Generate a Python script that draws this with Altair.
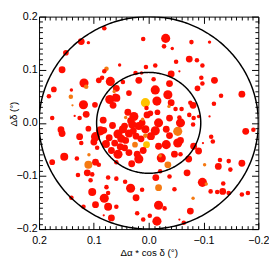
import altair as alt
import numpy as np
import pandas as pd

# source positions (deg), relative flux, colour class
dra = [0.081, 0.123, 0.110, 0.151, 0.158, 0.077, 0.081, 0.053, 0.085, 0.091, 0.070, 0.173, 0.118, 0.114,
       0.141, 0.182, 0.142, 0.139, 0.119, 0.114, 0.098, 0.135, 0.126, 0.176, 0.160, 0.110, 0.065, 0.061,
       0.063, 0.071, 0.059, 0.059, 0.047, 0.024, 0.013, 0.018, 0.006, 0.003, 0.004, 0.027, 0.042, 0.033,
       0.036, 0.082,
       -0.031, 0.010, -0.028, -0.043, -0.078, -0.111, -0.074, -0.088, -0.050, -0.098, 0.005, -0.012,
       -0.120, -0.096, -0.098, -0.089, -0.132, -0.170, -0.119, -0.111, -0.177, -0.191, -0.012, -0.038,
       -0.035, -0.041, -0.015, -0.037, -0.076, -0.081, -0.060, -0.049, -0.016, -0.038, -0.074, -0.082,
       -0.058, -0.018, -0.081, -0.053, 0.011, -0.032, -0.056, -0.041, -0.009, -0.056, -0.091,
       0.158, 0.126, 0.097, 0.100, 0.094, 0.123, 0.154, 0.176, 0.109, 0.131, 0.110, 0.097, 0.091, 0.112,
       0.103, 0.129, 0.106, 0.074, 0.059, 0.043, 0.033, 0.077, 0.103, 0.074, 0.081, 0.097, 0.074, 0.059,
       0.141, 0.119, 0.068, 0.082,
       0.088, 0.056, 0.044, 0.030, 0.018, 0.006, 0.012, 0.006, 0.004, 0.025, 0.062, 0.042, 0.044, 0.056,
       0.036, 0.021, 0.018, 0.031, 0.059, 0.066, 0.050, 0.072, 0.036, 0.023, 0.014,
       -0.012, -0.038, -0.058, -0.032, -0.053, -0.018, -0.091, -0.047, -0.058, -0.021, -0.023, -0.073,
       -0.070, -0.021,
       -0.035, -0.082, -0.099, -0.114, -0.117, -0.130, -0.146, -0.102, -0.127, -0.149, -0.170, -0.013,
       -0.038, -0.098, -0.105, -0.136, -0.113, -0.125, -0.135, -0.146, -0.170, -0.181, -0.081, 0.012,
       -0.018, -0.047, 0.023, -0.018, -0.029, -0.076, -0.056, -0.064, -0.015, -0.002, 0.021, 0.010,
       0.078, 0.047, 0.028, 0.010, -0.004, 0.052, 0.038, -0.003, 0.068, 0.083]
ddec = [0.178, 0.153, 0.151, 0.132, 0.100, 0.102, 0.097, 0.109, 0.085, 0.080, 0.078, 0.063, 0.075, 0.068,
        0.062, 0.050, 0.049, 0.033, 0.034, 0.016, 0.034, 0.013, 0.009, 0.009, -0.013, -0.011, 0.033, 0.050,
        0.059, 0.044, 0.047, 0.065, 0.077, 0.094, 0.094, 0.080, 0.038, 0.015, 0.028, 0.012, 0.010, 0.004,
        0.056, -0.014,
        0.159, 0.158, 0.144, 0.140, 0.152, 0.152, 0.120, 0.118, 0.115, 0.108, 0.105, 0.108,
        0.080, 0.085, 0.074, 0.065, 0.051, 0.054, 0.036, 0.012, -0.016, -0.013, 0.062, 0.074,
        0.053, 0.038, 0.041, 0.031, 0.038, 0.033, 0.026, 0.026, 0.020, 0.009, 0.015, 0.009,
        0.000, 0.000, -0.003, -0.016, 0.007, -0.012, 0.097, 0.092, 0.082, 0.010, 0.012,
        -0.020, -0.026, -0.026, -0.036, -0.047, -0.038, -0.064, -0.074, -0.060, -0.067, -0.079, -0.074, -0.079, -0.094,
        -0.097, -0.098, -0.108, -0.103, -0.105, -0.111, -0.123, -0.121, -0.130, -0.132, -0.142, -0.154, -0.158, -0.158,
        -0.141, -0.158, -0.179, -0.174,
        -0.015, -0.021, -0.006, -0.003, -0.006, -0.012, 0.000, -0.024, -0.041, -0.041, -0.038, -0.033, -0.047, -0.059,
        -0.056, -0.059, -0.068, -0.077, -0.074, -0.005, -0.030, -0.028, -0.020, -0.025, -0.030,
        -0.015, -0.024, -0.033, -0.041, -0.038, -0.044, -0.053, -0.059, -0.059, -0.062, -0.066, -0.068,
        -0.094, -0.091,
        -0.079, -0.044, -0.038, -0.026, -0.035, -0.070, -0.072, -0.079, -0.082, -0.088, -0.076, -0.103,
        -0.101, -0.112, -0.115, -0.114, -0.129, -0.130, -0.129, -0.132, -0.135, -0.132, -0.142, -0.126,
        -0.122, -0.125, -0.141, -0.155, -0.161, -0.166, -0.182, -0.188, -0.185, -0.175, -0.170, -0.182,
        -0.040, -0.012, -0.015, -0.052, -0.025, -0.045, 0.020, 0.018, -0.052, 0.005]
flux = [2, 3, 1.5, 2.5, 3, 2, 2, 1.5, 2, 2.5, 4, 2.5, 4, 2,
        1.5, 2, 2, 1, 4, 3, 2.5, 1, 2, 2, 3, 2.5, 3, 2.5,
        1.5, 4, 3.5, 3, 2, 2, 1.5, 3, 4, 3, 2, 4, 1.5, 3,
        2.5, 3,
        4, 2, 2, 1.5, 2, 1.5, 3, 2, 2, 2, 2, 2,
        3, 2, 2, 2.5, 2, 3, 2, 1, 3, 2, 4, 3,
        4, 3, 4, 1.5, 2, 3, 2, 2, 2.5, 3, 2, 2,
        4, 4, 2, 4, 1.5, 3, 1, 3, 2, 2, 1.5,
        3, 3, 4, 3, 2, 2, 3.5, 2.5, 1.5, 2, 3.5, 3, 2, 3,
        2, 2, 2, 2, 2, 2, 4, 2, 3.5, 2, 4, 3, 3.5, 2,
        2, 2, 3, 1,
        4, 4, 3, 3.5, 3.5, 3.5, 3, 2, 3, 2.5, 3, 3, 3, 4,
        3, 3, 4, 3, 2, 3, 3.5, 3, 3.5, 3, 3,
        4, 3, 3, 4, 4, 3, 3, 3, 2, 1.5, 4, 3,
        3, 2,
        3, 3, 1, 2, 2, 2, 2, 1.5, 3, 2, 3, 3,
        2, 4, 1.5, 2, 2, 2, 3, 2, 2, 2, 1.5, 2,
        3, 2, 3, 4, 2, 3, 1, 2, 4, 2, 2, 2,
        3.5, 3.5, 3, 3, 3.5, 3, 3, 2.5, 3, 3]
cls = (["r"] * 5 + ["o"] + ["r"] * 7 + ["o"] + ["r", "r", "o", "o"] + ["r"] * 10 + ["o"] + ["r"] * 7
       + ["y"] + ["r"] * 3 + ["o"] + ["r"] * 3
       + ["r"] * 27 + ["o"] + ["r"] * 11 + ["o", "o"] + ["r"] * 6
       + ["r"] * 8 + ["o", "r", "o"] + ["r"] * 21
       + ["r"] * 7 + ["o", "y", "o"] + ["r"] * 15
       + ["r"] * 9 + ["o"] + ["r"] * 4
       + ["o"] + ["r"] * 6 + ["o"] + ["r"] * 6 + ["o"] + ["r"] * 7 + ["o", "r", "o"] + ["r"] * 11
       + ["r"] * 10)

n = min(len(dra), len(ddec), len(flux), len(cls))
src = pd.DataFrame({"dra": dra[:n], "ddec": ddec[:n], "flux": flux[:n], "cls": cls[:n]})
src = src.sort_values("flux", ascending=False)

ring_radii = [0.2, 0.095]
t = np.linspace(0, 2 * np.pi, 361)
rings = pd.concat([pd.DataFrame({"dra": r * np.cos(t), "ddec": r * np.sin(t), "i": np.arange(361), "ring": str(r)})
                   for r in ring_radii])

W, H = 226, 219
major = [0.2, 0.1, 0.0, -0.1, -0.2]
minor = [round(v, 2) for v in np.arange(-0.2, 0.2001, 0.01)]
xs = alt.Scale(domain=[0.2, -0.2], nice=False, zero=False)
ys = alt.Scale(domain=[-0.2, 0.2], nice=False, zero=False)
tick_sz = {"condition": {"test": "abs(round(datum.value*100)) % 10 == 0", "value": 7}, "value": 3.5}
FONT = "Liberation Sans"

pts = alt.Chart(src).mark_circle(opacity=1, strokeWidth=0).encode(
    x=alt.X("dra:Q", scale=xs, title="Δα * cos δ (°)",
            axis=alt.Axis(orient="bottom", values=major, format=".1f", ticks=False, grid=False,
                          labelFlush=False, domainColor="black", labelColor="black", labelFontSize=11,
                          labelFont=FONT, labelPadding=6, titleFontSize=10, titleFont=FONT,
                          titleFontWeight="normal", titleColor="black", titlePadding=2)),
    y=alt.Y("ddec:Q", scale=ys, title="Δδ (°)",
            axis=alt.Axis(orient="left", values=major, format=".1f", ticks=False, grid=False,
                          labelFlush=False, domainColor="black", labelColor="black", labelFontSize=11,
                          labelFont=FONT, labelPadding=2, titleFontSize=10, titleFont=FONT,
                          titleFontWeight="normal", titleColor="black", titleX=-21, titleY=100,
                          titleBaseline="bottom", titleAngle=270)),
    color=alt.Color("cls:N", scale=alt.Scale(domain=["r", "o", "y"], range=["#ff0d00", "#f57a12", "#ffc400"]),
                    legend=None),
    size=alt.Size("flux:Q", scale=alt.Scale(type="pow", exponent=2, domain=[0, 4], range=[0, 88]), legend=None),
)

circ = alt.Chart(rings).mark_line(color="black", strokeWidth=1.5, clip=True).encode(
    x=alt.X("dra:Q", scale=xs,
            axis=alt.Axis(orient="top", offset=-H, values=minor, labels=False, domain=False, grid=False,
                          title=None, tickColor="black", tickSize=tick_sz)),
    y=alt.Y("ddec:Q", scale=ys,
            axis=alt.Axis(orient="right", offset=-W, values=minor, labels=False, domain=False, grid=False,
                          title=None, tickColor="black", tickSize=tick_sz)),
    detail="ring:N",
    order="i:Q",
)

frame = alt.Chart(src).mark_point(opacity=0).encode(
    x=alt.X("dra:Q", scale=xs,
            axis=alt.Axis(orient="bottom", offset=-H, values=minor, labels=False, domain=True, grid=False,
                          title=None, domainColor="black", tickColor="black", tickSize=tick_sz)),
    y=alt.Y("ddec:Q", scale=ys,
            axis=alt.Axis(orient="left", offset=-W, values=minor, labels=False, domain=True, grid=False,
                          title=None, domainColor="black", tickColor="black", tickSize=tick_sz)),
)

chart = alt.layer(pts, circ, frame).resolve_axis(x="independent", y="independent").properties(
    width=W, height=H,
    autosize=alt.AutoSizeParams(type="none"),
    padding={"left": 32, "top": 5, "right": 11, "bottom": 29},
).configure_view(stroke=None)

chart.save("out.html", embed_options={"renderer": "svg", "actions": False})
